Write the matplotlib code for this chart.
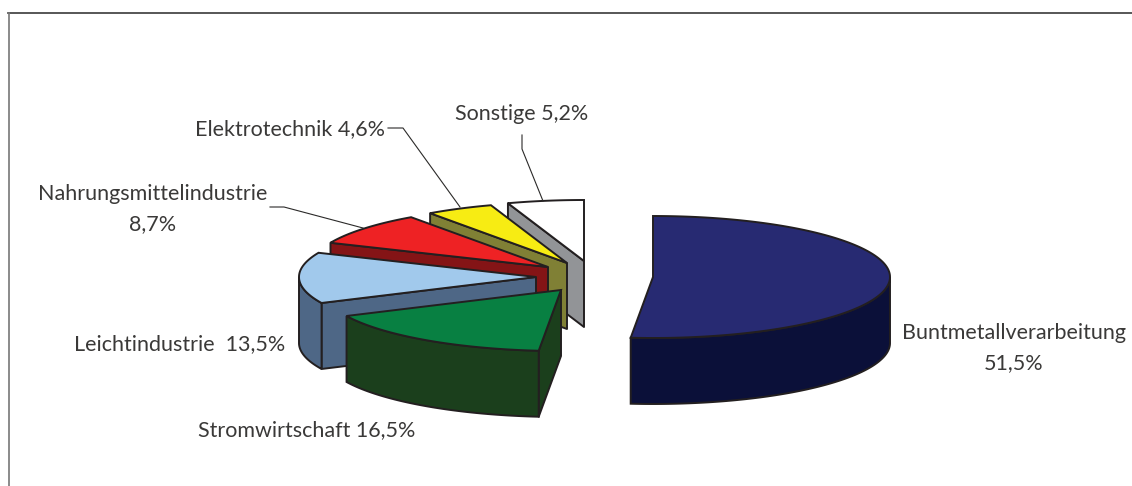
import numpy as np
import matplotlib
matplotlib.use("Agg")
import matplotlib.pyplot as plt
from matplotlib.patches import Polygon

plt.rcParams['font.family'] = ['Lato', 'DejaVu Sans']

# Anteile in Prozent, im Uhrzeigersinn ab 12 Uhr
shares = [51.5, 16.5, 13.5, 8.7, 4.6, 5.2]
labels = ["Buntmetallverarbeitung\n51,5%", "Stromwirtschaft 16,5%", "Leichtindustrie  13,5%",
          "Nahrungsmittelindustrie\n8,7%", "Elektrotechnik 4,6%", "Sonstige 5,2%"]

top_colors = ["#272a72", "#088042", "#a1c9ec", "#ee2224", "#f7ec13", "#ffffff"]
side_colors = ["#0b1039", "#1b3f1c", "#4e6786", "#841416", "#808035", "#929497"]

# Lage der Tortenstuecke im Bild (Pixel)
centers = [(653, 277), (561, 290), (536, 277), (548, 267), (567, 263), (584, 261)]
label_pos = [(1014, 348), (307, 430), (180, 344), (153, 209), (290, 129), (522, 114)]
leaders = [None, None, None,
           [(270, 207), (284, 207), (363, 228)],
           [(388, 128), (403, 128), (460, 207)],
           [(522, 135), (522, 149), (543, 201)]]

RX, RY = 237, 61
DEPTH = 66
EDGE = "#231f20"


def rim(cx, cy, a0, a1, dz=0):
    # Punkte auf der Ellipse, Winkel in Grad im Uhrzeigersinn ab oben
    a = np.radians(np.linspace(a0, a1, max(int(abs(a1 - a0)) * 2, 2)))
    return np.column_stack([cx + RX * np.sin(a), cy - RY * np.cos(a) + dz])


def cut_face(ax, cx, cy, ang, color):
    p = rim(cx, cy, ang, ang)[0]
    pts = [(cx, cy), p, (p[0], p[1] + DEPTH), (cx, cy + DEPTH)]
    ax.add_patch(Polygon(pts, closed=True, fc=color, ec=EDGE, lw=1.4, joinstyle="round"))


fig = plt.figure(figsize=(11.32, 4.86), dpi=100)
ax = fig.add_axes([0, 0, 1, 1])
ax.set_xlim(0, 1132)
ax.set_ylim(486, 0)
ax.axis("off")

# Rahmen
ax.plot([8, 1132], [13.5, 13.5], color="#3a3a3a", lw=1.2)
ax.plot([8.5, 8.5], [13, 486], color="#777777", lw=1.2)

edges = np.cumsum([0] + shares) / sum(shares) * 360

# von hinten nach vorne zeichnen
for i in range(len(shares) - 1, -1, -1):
    a0, a1 = edges[i], edges[i + 1]
    cx, cy = centers[i]

    # Schnittflaeche, die zum Betrachter zeigt
    if a0 > 180:
        cut_face(ax, cx, cy, a0, side_colors[i])

    # Aussenwand (nur die vordere Haelfte ist sichtbar)
    w0, w1 = max(a0, 90), min(a1, 270)
    if w1 > w0:
        pts = np.vstack([rim(cx, cy, w0, w1), rim(cx, cy, w0, w1, DEPTH)[::-1]])
        ax.add_patch(Polygon(pts, closed=True, fc=side_colors[i], ec=EDGE, lw=1.4))

    # Deckflaeche
    pts = np.vstack([[(cx, cy)], rim(cx, cy, a0, a1)])
    ax.add_patch(Polygon(pts, closed=True, fc=top_colors[i], ec=EDGE, lw=1.4))

for i, txt in enumerate(labels):
    ax.text(label_pos[i][0], label_pos[i][1], txt, fontsize=15.5, color="#3a3938",
            ha="center", va="center", linespacing=1.62, fontweight="normal")
    if leaders[i] is not None:
        xs, ys = zip(*leaders[i])
        ax.plot(xs, ys, color="#2b2a29", lw=0.8)

fig.savefig("out.png", dpi=100)
